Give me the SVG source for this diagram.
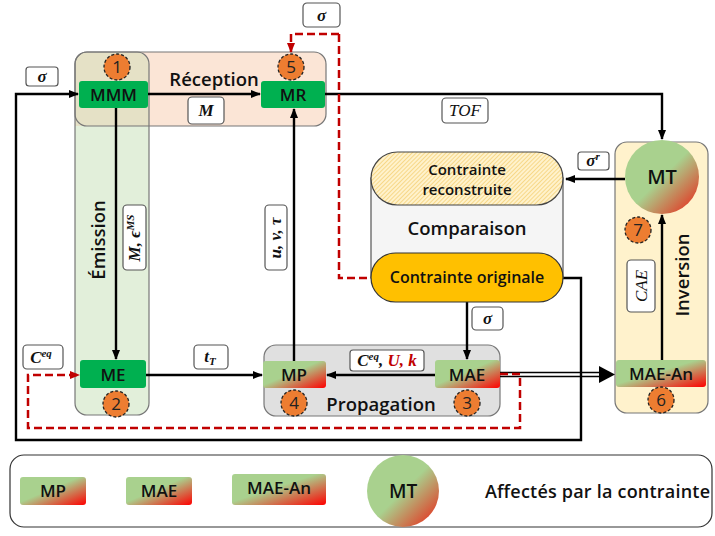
<svg xmlns="http://www.w3.org/2000/svg" width="715" height="536" viewBox="0 0 715 536">
<style>
.nt{font-family:"Open Sans","Noto Sans",sans-serif;font-weight:600;font-size:17px;fill:#111;text-anchor:middle}
.tt{font-family:"Open Sans","Noto Sans",sans-serif;font-weight:600;font-size:18.5px;fill:#111;text-anchor:middle}
.mt{font-family:"Liberation Serif",serif;font-style:italic;font-weight:bold;font-size:17px;fill:#111;text-anchor:middle}
.lb{fill:#fff;stroke:#555;stroke-width:1.2}
.num{fill:#ed7d31;stroke:#222;stroke-width:1.3;stroke-dasharray:3 2}
.numt{font-family:"Open Sans","Noto Sans",sans-serif;font-size:17px;fill:#222;text-anchor:middle}
.ln{fill:none;stroke:#000;stroke-width:2.4}
.rd{fill:none;stroke:#c00000;stroke-width:2.5;stroke-dasharray:8 4}
.grn{fill:#00b050}
</style>
<defs>
<marker id="ah" markerWidth="10" markerHeight="10" refX="9" refY="5" orient="auto" markerUnits="userSpaceOnUse">
<path d="M0,1 L10,5 L0,9 Z" fill="#000"/>
</marker>
<marker id="ahr" markerWidth="10" markerHeight="10" refX="9" refY="5" orient="auto" markerUnits="userSpaceOnUse">
<path d="M0,1 L10,5 L0,9 Z" fill="#c00000"/>
</marker>
<linearGradient id="gr" x1="0" y1="0" x2="1" y2="1">
<stop offset="0" stop-color="#a9d18e"/>
<stop offset="0.45" stop-color="#a9d18e"/>
<stop offset="1" stop-color="#ff0000"/>
</linearGradient>
<linearGradient id="grc" x1="0" y1="0" x2="1" y2="1">
<stop offset="0" stop-color="#a9d18e"/>
<stop offset="0.5" stop-color="#a9d18e"/>
<stop offset="1" stop-color="#ee1c10"/>
</linearGradient>
<pattern id="hatch" width="3" height="3" patternUnits="userSpaceOnUse" patternTransform="rotate(45)">
<rect width="3" height="3" fill="#fff2cc"/>
<line x1="0" y1="0" x2="0" y2="3" stroke="#f2c75c" stroke-width="1.2"/>
</pattern>
</defs>

<!-- containers -->
<g id="reception-box">
<rect x="75" y="52" width="251" height="74" rx="12" fill="#fbe5d6"/>
</g>
<g id="emission-box">
<rect x="75" y="52" width="74" height="363" rx="12" fill="#e2efda"/>
<path d="M75,64 a12,12 0 0 1 12,-12 H137 a12,12 0 0 1 12,12 V126 H75 Z" fill="#e5e1c6"/>
<rect x="75" y="52" width="74" height="363" rx="12" fill="none" stroke="#777" stroke-width="1.2"/>
<rect x="75" y="52" width="251" height="74" rx="12" fill="none" stroke="#777" stroke-width="1.2"/>
<text class="tt" transform="translate(105,240) rotate(-90)">Émission</text>
<text class="tt" x="214" y="86">Réception</text>
</g>
<g id="propagation-box">
<rect x="264" y="345" width="236" height="71" rx="12" fill="#e0e0e0" stroke="#777" stroke-width="1.2"/>
<text class="tt" x="381" y="411">Propagation</text>
</g>
<g id="inversion-box">
<rect x="615" y="142" width="93" height="271" rx="12" fill="#fff2cc" stroke="#777" stroke-width="1.2"/>
<text class="tt" transform="translate(689,275) rotate(-90)">Inversion</text>
</g>

<!-- connectors -->
<g id="connectors">
<line class="ln" x1="148" y1="94" x2="260" y2="94" marker-end="url(#ah)"/>
<line class="ln" x1="116" y1="108" x2="116" y2="359" marker-end="url(#ah)"/>
<line class="ln" x1="146" y1="375" x2="262" y2="375" marker-end="url(#ah)"/>
<line class="ln" x1="294" y1="361" x2="294" y2="109" marker-end="url(#ah)"/>
<line class="ln" x1="435" y1="375" x2="327" y2="375" marker-end="url(#ah)"/>
<polyline class="ln" points="325,94 662,94 662,139" marker-end="url(#ah)"/>
<line class="ln" x1="625" y1="179" x2="566" y2="179" marker-end="url(#ah)"/>
<line class="ln" x1="662" y1="360" x2="662" y2="215" marker-end="url(#ah)"/>
<line class="ln" x1="467" y1="302" x2="467" y2="359" marker-end="url(#ah)"/>
<polyline class="ln" points="562,278 581,278 581,440 16,440 16,94 78,94" marker-end="url(#ah)"/>
<line x1="500" y1="372.5" x2="602" y2="372.5" stroke="#000" stroke-width="1.3"/>
<line x1="500" y1="376.5" x2="602" y2="376.5" stroke="#000" stroke-width="1.3"/>
<path d="M599,366 L615,374.5 L599,383 Z" fill="#000"/>
<polyline class="rd" points="339,34 339,278 371,278"/>
<polyline class="rd" points="339,34 291,34 291,52" marker-end="url(#ahr)"/>
<polyline class="rd" points="500,374 520,374 520,428 28,428 28,375 79,375" marker-end="url(#ahr)"/>
</g>

<!-- comparison -->
<g id="comparaison">
<rect x="371" y="178" width="192" height="100" fill="#f5f5f5" stroke="#555" stroke-width="1.2"/>
<rect x="371" y="152" width="192" height="53" rx="26.5" fill="url(#hatch)" stroke="#444" stroke-width="1.2"/>
<text class="nt" x="467" y="175" style="font-size:15px">Contrainte</text>
<text class="nt" x="467" y="195" style="font-size:15px">reconstruite</text>
<text class="tt" x="467" y="235">Comparaison</text>
</g>
<g id="contrainte-originale">
<rect x="371" y="253" width="192" height="49" rx="24.5" fill="#ffc000" stroke="#333" stroke-width="1.2"/>
<text class="nt" x="467" y="283" style="font-size:16px">Contrainte  originale</text>
</g>

<!-- nodes -->
<g id="MMM">
<rect class="grn" x="79" y="81" width="69" height="27" rx="3"/>
<text class="nt" x="113.5" y="100.5">MMM</text>
<circle class="num" cx="117" cy="67" r="13"/>
<text class="numt" x="117" y="73">1</text>
</g>
<g id="MR">
<rect class="grn" x="261" y="81" width="64" height="27" rx="3"/>
<text class="nt" x="293" y="100.5">MR</text>
<circle class="num" cx="291" cy="67" r="13"/>
<text class="numt" x="291" y="73">5</text>
</g>
<g id="ME">
<rect class="grn" x="80" y="360" width="66" height="28" rx="3"/>
<text class="nt" x="113" y="380.5">ME</text>
<circle class="num" cx="116" cy="404" r="13"/>
<text class="numt" x="116" y="410">2</text>
</g>
<g id="MP">
<rect x="263" y="361" width="63" height="27" rx="3" fill="url(#gr)"/>
<text class="nt" x="294" y="380.5">MP</text>
<circle class="num" cx="294" cy="403" r="13"/>
<text class="numt" x="294" y="409">4</text>
</g>
<g id="MAE">
<rect x="435" y="360" width="65" height="28" rx="3" fill="url(#gr)"/>
<text class="nt" x="467" y="380.5">MAE</text>
<circle class="num" cx="467" cy="403" r="13"/>
<text class="numt" x="467" y="409">3</text>
</g>
<g id="MAE-An">
<rect x="616" y="360" width="90" height="27" rx="3" fill="url(#gr)"/>
<text class="nt" x="661" y="379.5">MAE-An</text>
<circle class="num" cx="661" cy="400" r="13"/>
<text class="numt" x="661" y="406">6</text>
</g>
<g id="MT">
<circle cx="662" cy="177" r="37" fill="url(#grc)"/>
<text class="tt" x="662" y="184" style="font-size:20px">MT</text>
<circle class="num" cx="638" cy="230" r="13"/>
<text class="numt" x="638" y="236">7</text>
</g>

<!-- labels -->
<g id="labels">
<rect class="lb" x="26" y="67" width="32" height="19" rx="3"/>
<text class="mt" x="42" y="82">σ</text>
<rect class="lb" x="303" y="3" width="37" height="24" rx="4"/>
<text class="mt" x="321.5" y="21">σ</text>
<rect class="lb" x="188" y="97" width="36" height="27" rx="4"/>
<text class="mt" x="206" y="116">M</text>
<rect class="lb" x="442" y="98" width="46" height="25" rx="4"/>
<text class="mt" x="465" y="116" style="font-weight:normal">TOF</text>
<rect class="lb" x="578" y="152" width="31" height="18" rx="3"/>
<text class="mt" x="593" y="166">σ<tspan font-size="11" dy="-6">r</tspan></text>
<rect class="lb" x="627" y="260" width="28" height="52" rx="4"/>
<text class="mt" transform="translate(647,286) rotate(-90)" style="font-weight:normal">CAE</text>
<rect class="lb" x="123" y="205" width="23" height="65" rx="4"/>
<text class="mt" transform="translate(140,238) rotate(-90)">M, ϵ<tspan font-size="11" dy="-6">MS</tspan></text>
<rect class="lb" x="265" y="205" width="22" height="65" rx="4"/>
<text class="mt" transform="translate(281,238) rotate(-90)">u, v, τ</text>
<rect class="lb" x="23" y="345" width="40" height="24" rx="4"/>
<text class="mt" x="41" y="363">C<tspan font-size="11" dy="-6">eq</tspan></text>
<rect class="lb" x="194" y="345" width="34" height="24" rx="4"/>
<text class="mt" x="210" y="362">t<tspan font-size="11" dy="3">T</tspan></text>
<rect class="lb" x="350" y="350" width="74" height="21" rx="3"/>
<text class="mt" x="387" y="366">C<tspan font-size="11" dy="-6">eq</tspan><tspan dy="6">, </tspan><tspan fill="#c00000">U, k</tspan></text>
<rect class="lb" x="472" y="307" width="31" height="23" rx="4"/>
<text class="mt" x="487.5" y="324">σ</text>
</g>

<!-- legend -->
<g id="legend">
<rect x="10" y="455" width="702" height="72" rx="14" fill="#fff" stroke="#333" stroke-width="1.2"/>
<rect x="20" y="477" width="66" height="28" rx="3" fill="url(#gr)"/>
<text class="nt" x="53" y="497">MP</text>
<rect x="126" y="477" width="66" height="28" rx="3" fill="url(#gr)"/>
<text class="nt" x="159" y="497">MAE</text>
<rect x="232" y="474" width="94" height="31" rx="3" fill="url(#gr)"/>
<text class="nt" x="279" y="494">MAE-An</text>
<circle cx="403" cy="491" r="36" fill="url(#grc)"/>
<text class="nt" x="403" y="498" style="font-size:19px">MT</text>
<text class="nt" x="485" y="498" style="text-anchor:start;font-size:18px" textLength="225">Affectés par la contrainte</text>
</g>
</svg>
